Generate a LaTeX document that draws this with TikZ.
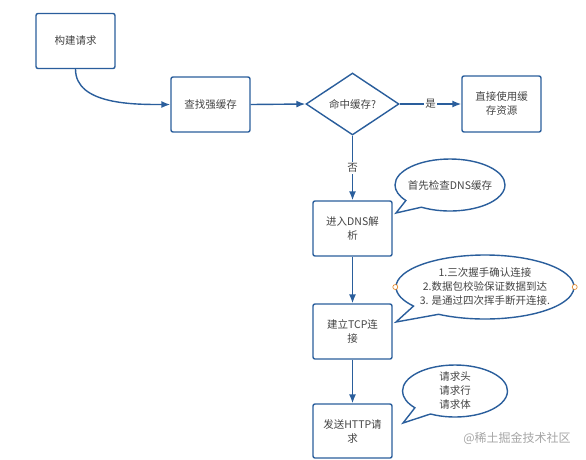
\documentclass[tikz,border=0pt]{standalone}
\usepackage{fontspec}
\setmainfont{Noto Sans CJK SC}
\usetikzlibrary{shapes.geometric,shapes.callouts,arrows.meta}
\definecolor{fbl}{HTML}{2A5E9C}
\definecolor{ftx}{HTML}{444444}
\begin{document}
\begin{tikzpicture}[x=1pt,y=-1pt,
  box/.style={draw=fbl,line width=1.4pt,rounded corners=2pt,minimum width=79pt,minimum height=55pt,inner sep=0pt,align=center,text=ftx,font=\fontsize{10.5}{14}\selectfont},
  dia/.style={draw=fbl,line width=1.4pt,shape=diamond,aspect=1.5,inner sep=0pt,minimum width=93pt,minimum height=62pt,text=ftx,font=\fontsize{10.5}{14}\selectfont},
  bub/.style={draw=fbl,line width=1.4pt,shape=ellipse callout,inner sep=0pt,callout pointer arc=22},
  btxt/.style={align=center,text=ftx,font=\fontsize{10.5}{14}\selectfont,inner sep=0pt},
  lbl/.style={fill=white,text=ftx,font=\fontsize{10.5}{12}\selectfont,inner sep=1.5pt},
  arr/.style={draw=fbl,line width=1.4pt,-{Latex[length=9pt,width=7pt]}},
  handle/.style={circle,draw=orange!60!brown,fill=white,line width=0.6pt,minimum size=5pt,inner sep=0pt}]
\useasboundingbox (0,0) rectangle (586,459);
\fill[white] (0,0) rectangle (586,459);

\node[box] (b1) at (75.5,41) {构建请求};
\node[box] (b2) at (210.5,104.5) {查找强缓存};
\node[dia] (d) at (352.5,104) {命中缓存?};
\node[box,minimum height=56pt] (b3) at (501.5,104) {直接使用缓\\存资源};
\node[box] (b4) at (352.5,228.5) {进入DNS解\\析};
\node[box] (b5) at (352.5,331.5) {建立TCP连\\接};
\node[box,minimum height=54pt] (b6) at (352.5,431) {发送HTTP请\\求};

\path[arr] (b1.south) to[out=-90,in=180,looseness=0.9] (b2.west);
\path[arr] (b2.east) -- (d.west);
\path[arr] (d.east) -- node[lbl] {是} (b3.west);
\path[arr] (d.south) -- node[lbl] {否} (b4.north);
\path[arr] (b4.south) -- (b5.north);
\path[arr] (b5.south) -- (b6.north);

\node[bub,minimum width=110pt,minimum height=52pt,callout absolute pointer={(396,213)}] (c1) at (450,185) {};
\node[btxt] (t1) at (c1.center) {首先检查DNS缓存};

\node[bub,minimum width=178pt,minimum height=64pt,callout absolute pointer={(396,322)}] (c2) at (485,287) {};
\node[btxt] (t2) at (c2.center) {1.三次握手确认连接\\2.数据包校验保证数据到达\\3. 是通过四次挥手断开连接.};
\node[handle] (h1) at (c2.west) {};
\node[handle] (h2) at (c2.east) {};

\node[bub,minimum width=105pt,minimum height=52pt,callout absolute pointer={(403,423)}] (c3) at (455,391) {};
\node[btxt] (t3) at (c3.center) {请求头\\请求行\\请求体};

\node[text=gray!70,font=\fontsize{12}{14}\selectfont,inner sep=0pt] (wm) at (517,438) {@稀土掘金技术社区};
\end{tikzpicture}
\end{document}
